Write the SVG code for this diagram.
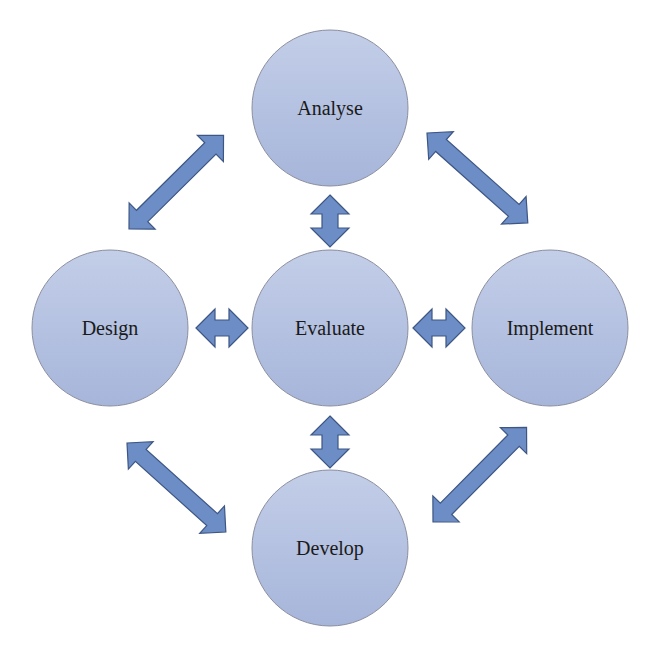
<svg xmlns="http://www.w3.org/2000/svg" xmlns:xlink="http://www.w3.org/1999/xlink" width="660" height="660" viewBox="0 0 660 660">
<style>
.node circle{fill:url(#cg);stroke:#8c8f9e;stroke-width:1}
.node text{font-family:"Liberation Serif","DejaVu Serif",serif;font-size:20px;fill:#1a1a1a;text-anchor:middle}
.arrow{fill:#6c8dc5;stroke:#3d5684;stroke-width:1.2;stroke-linejoin:miter}
</style>
<defs>
<linearGradient id="cg" x1="0" y1="0" x2="0" y2="1">
<stop offset="0" stop-color="#c3cee8"/>
<stop offset="1" stop-color="#a6b5da"/>
</linearGradient>
<path id="shortArrow" d="M0,0 L19,-19 L19,-8 L33,-8 L33,-19 L52,0 L33,19 L33,8 L19,8 L19,19 Z"/>
<path id="longArrow" d="M0,0 L18.5,-18.5 L18.5,-8 L114.5,-8 L114.5,-18.5 L133,0 L114.5,18.5 L114.5,8 L18.5,8 L18.5,18.5 Z"/>
</defs>
<rect width="660" height="660" fill="#ffffff"/>
<g id="connectors">
<use class="arrow" xlink:href="#shortArrow" href="#shortArrow" transform="translate(330,195) rotate(90)"/>
<use class="arrow" xlink:href="#shortArrow" href="#shortArrow" transform="translate(330,416) rotate(90)"/>
<use class="arrow" xlink:href="#shortArrow" href="#shortArrow" transform="translate(196,328)"/>
<use class="arrow" xlink:href="#shortArrow" href="#shortArrow" transform="translate(413,328)"/>
<use class="arrow" xlink:href="#longArrow" href="#longArrow" transform="translate(129,229) rotate(-44.7)"/>
<use class="arrow" xlink:href="#longArrow" href="#longArrow" transform="translate(427,133) rotate(41.7) scale(1.015,1)"/>
<use class="arrow" xlink:href="#longArrow" href="#longArrow" transform="translate(127,443) rotate(42)"/>
<use class="arrow" xlink:href="#longArrow" href="#longArrow" transform="translate(433,522) rotate(-45.3)"/>
</g>
<g id="analyse" class="node"><circle cx="330" cy="108" r="78"/><text x="330" y="115">Analyse</text></g>
<g id="design" class="node"><circle cx="110" cy="328" r="78"/><text x="110" y="335">Design</text></g>
<g id="evaluate" class="node"><circle cx="330" cy="328" r="78"/><text x="330" y="335">Evaluate</text></g>
<g id="implement" class="node"><circle cx="550" cy="328" r="78"/><text x="550" y="335">Implement</text></g>
<g id="develop" class="node"><circle cx="330" cy="548" r="78"/><text x="330" y="555">Develop</text></g>
</svg>
